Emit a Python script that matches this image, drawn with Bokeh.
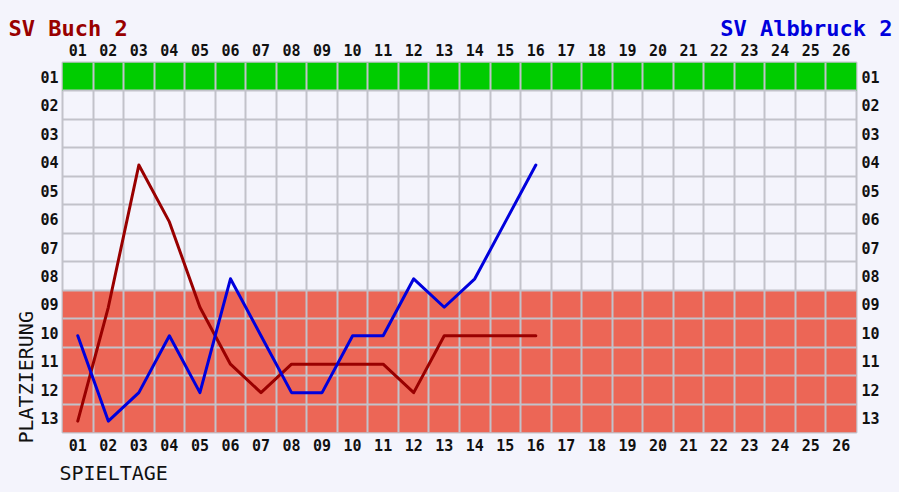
from bokeh.plotting import figure
from bokeh.models import (Range1d, LinearAxis, FixedTicker, Grid, Label, Title,
                          GlobalInlineStyleSheet)
from bokeh.layouts import column
from bokeh.embed import file_html
from bokeh.resources import INLINE

# ---- data ----
matchdays = list(range(1, 17))
buch_rank = [13, 9, 4, 6, 9, 11, 12, 11, 11, 11, 11, 12, 10, 10, 10, 10]
albbruck_rank = [10, 13, 12, 10, 12, 8, 10, 12, 12, 10, 10, 8, 9, 8, 6, 4]
x_tick_labels = ["01", "02", "03", "04", "05", "06", "07", "08", "09", "10", "11", "12", "13",
                 "14", "15", "16", "17", "18", "19", "20", "21", "22", "23", "24", "25", "26"]
y_tick_labels = ["01", "02", "03", "04", "05", "06", "07", "08", "09", "10", "11", "12", "13"]
team_left = "SV Buch 2"
team_right = "SV Albbruck 2"
promotion_places = [1]
relegation_places = [9, 10, 11, 12, 13]

n_days = len(x_tick_labels)
n_places = len(y_tick_labels)

BG = "#f4f4fc"
GRID = "#c2c2ca"
RED_LINE = "#990000"
BLUE_LINE = "#0000dd"
GREEN = "#00cc00"
RED_ZONE = "#ec6656"
TXT = "#111111"
MONO = "DejaVu Sans Mono"

W = 899
HEAD_H = 40
MAIN_H = 452

# ---- header with the two team names ----
head = figure(width=W, height=HEAD_H, output_backend="svg", toolbar_location=None,
              x_range=Range1d(0, W), y_range=Range1d(HEAD_H, 0),
              x_axis_location=None, y_axis_location=None,
              min_border=0, min_border_left=0, min_border_right=0,
              min_border_top=0, min_border_bottom=0)
if "frame_align" in head.properties():
    head.frame_align = False
head.background_fill_color = BG
head.border_fill_color = BG
head.outline_line_color = None
head.xgrid.visible = False
head.ygrid.visible = False
head.add_layout(Label(x=8, y=28, text=team_left, text_font=MONO, text_font_style="bold",
                      text_font_size="22px", text_color=RED_LINE, text_align="left",
                      text_baseline="alphabetic"))
head.add_layout(Label(x=892, y=28, text=team_right, text_font=MONO, text_font_style="bold",
                      text_font_size="22px", text_color=BLUE_LINE, text_align="right",
                      text_baseline="alphabetic"))

# ---- main chart ----
p = figure(width=W, height=MAIN_H, output_backend="svg", toolbar_location=None,
           x_range=Range1d(0.5, n_days + 0.5), y_range=Range1d(n_places + 0.5, 0.5),
           x_axis_location=None, y_axis_location=None,
           min_border_left=62, min_border_right=43, min_border_top=22, min_border_bottom=60)
if "frame_align" in p.properties():
    p.frame_align = False
p.background_fill_color = BG
p.border_fill_color = BG
p.outline_line_color = GRID
p.outline_line_width = 2
p.xgrid.visible = False
p.ygrid.visible = False

# zones
p.quad(left=[0.5], right=[n_days + 0.5],
       top=[min(promotion_places) - 0.5], bottom=[max(promotion_places) + 0.5],
       fill_color=GREEN, line_color=None, level="image")
p.quad(left=[0.5], right=[n_days + 0.5],
       top=[min(relegation_places) - 0.5], bottom=[max(relegation_places) + 0.5],
       fill_color=RED_ZONE, line_color=None, level="image")

# cell grid
p.add_layout(Grid(dimension=0, ticker=FixedTicker(ticks=[i + 0.5 for i in range(0, n_days + 1)]),
                  grid_line_color=GRID, grid_line_width=2))
p.add_layout(Grid(dimension=1, ticker=FixedTicker(ticks=[i + 0.5 for i in range(0, n_places + 1)]),
                  grid_line_color=GRID, grid_line_width=2))

# lines (drawn slightly below the row centre as in the original)
off = 0.1
p.line(matchdays, [r + off for r in buch_rank], line_color=RED_LINE, line_width=3,
       line_join="round", line_cap="round")
p.line(matchdays, [r + off for r in albbruck_rank], line_color=BLUE_LINE, line_width=3,
       line_join="round", line_cap="round")

# axes
def style_axis(ax, labels, standoff):
    ax.major_label_overrides = {i + 1: t for i, t in enumerate(labels)}
    ax.axis_line_color = None
    ax.major_tick_line_color = None
    ax.minor_tick_line_color = None
    ax.major_tick_in = 0
    ax.major_tick_out = 0
    ax.major_label_standoff = standoff
    ax.major_label_text_font = MONO
    ax.major_label_text_font_style = "bold"
    ax.major_label_text_font_size = "15px"
    ax.major_label_text_color = TXT

for loc, st in (("above", 7), ("below", 6)):
    ax = LinearAxis(ticker=FixedTicker(ticks=list(range(1, n_days + 1))))
    style_axis(ax, x_tick_labels, st)
    p.add_layout(ax, loc)
for loc, st in (("left", 4), ("right", 5)):
    ax = LinearAxis(ticker=FixedTicker(ticks=list(range(1, n_places + 1))))
    style_axis(ax, y_tick_labels, st)
    p.add_layout(ax, loc)

p.add_layout(Title(text="PLATZIERUNG", align="left", offset=-11, standoff=0,
                   text_font=MONO, text_font_style="normal", text_font_size="20px",
                   text_color=TXT), "left")
p.add_layout(Title(text="SPIELTAGE", align="left", offset=-3, standoff=10,
                   text_font=MONO, text_font_style="normal", text_font_size="20px",
                   text_color=TXT), "below")

page = column(head, p, spacing=0)
page.stylesheets = [GlobalInlineStyleSheet(css="body { background: %s; }" % BG)]

open("out.html", "w").write(file_html(page, INLINE))
